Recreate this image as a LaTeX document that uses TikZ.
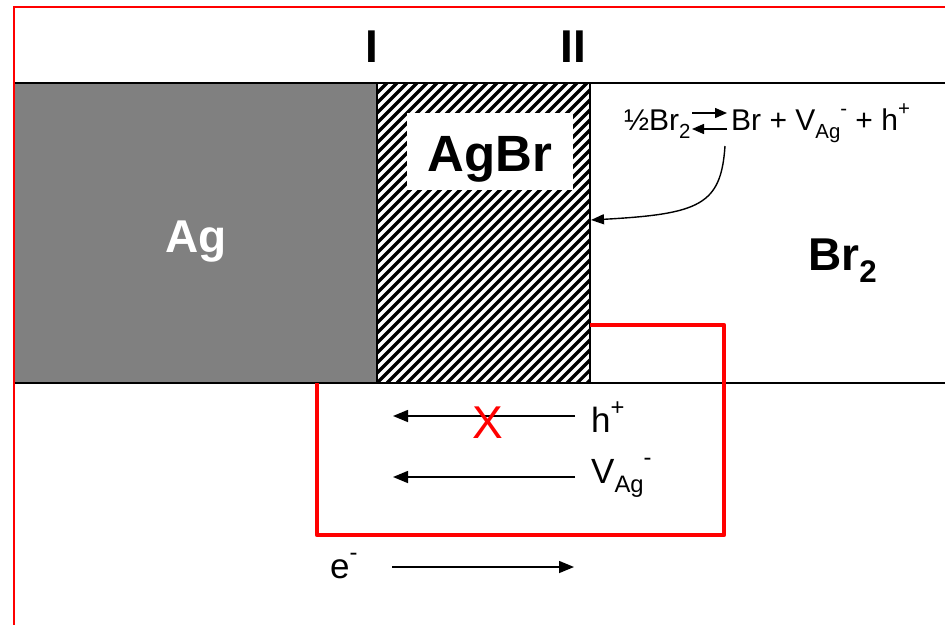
\documentclass[tikz,border=0pt]{standalone}
\usepackage{fontspec}
\usepackage{graphicx}
\setmainfont{Liberation Sans}
\usetikzlibrary{arrows.meta}
\definecolor{aggray}{HTML}{808080}
\newcommand\mysub[1]{\raisebox{-0.28em}{\scalebox{0.68}{#1}}}
\newcommand\mysup[1]{\raisebox{0.5em}{\scalebox{0.68}{#1}}}
\tikzset{
  big/.style={font=\fontsize{46}{50}\selectfont\bfseries, inner sep=0pt},
  lbl/.style={font=\fontsize{35}{38}\selectfont, inner sep=0pt},
  eq/.style={font=\fontsize{30}{34}\selectfont, inner sep=0pt},
  flow/.style={line width=1.5pt, -{Triangle[length=15pt,width=12pt]}},
  circuit/.style={red, line width=4.5pt, line join=round},
}
\begin{document}
\begin{tikzpicture}[x=1pt,y=-1pt]
\useasboundingbox (0,0) rectangle (945,624);
% outer red frame (only left and top edges visible)
\draw[red, line width=2pt] (14,640) -- (14,7) -- (960,7);
% Ag region
\fill[aggray] (15,83) rectangle (377,383);
% AgBr hatch
\begin{scope}
  \clip (377,83) rectangle (590,383);
  \foreach \x in {67,77,...,600} \draw[line width=3.2pt] (\x,383) -- (\x+300,83);
\end{scope}
% white label box
\node[fill=white, inner sep=0pt, minimum width=166pt, minimum height=77pt] (agbrbox) at (490,151.5) {};
\node[big, font=\fontsize{51}{54}\selectfont\bfseries, anchor=base] (agbr) at (490,171) {AgBr};
% band lines
\draw[line width=1.6pt] (15,83) -- (945,83);
\draw[line width=1.6pt] (15,383) -- (945,383);
\draw[line width=1.3pt] (377,83) -- (377,383);
\draw[line width=1.3pt] (590,83) -- (590,383);
% region labels
\node[big, white, anchor=base] (ag) at (196,252) {Ag};
\node[big, anchor=base west] (br2) at (808,270) {Br\mysub{2}};
\node[big] (i1) at (372,47) {I};
\node[big] (i2) at (573,47) {II};
% equation
\node[eq, anchor=base west] (eqa) at (624,130) {½Br\mysub{2}};
\node[eq, anchor=base west] (eqb) at (731,130) {Br + V\mysub{Ag}\mysup{-} + h\mysup{+}};
\coordinate (ar1) at (692,113);
\coordinate (ar2) at (727,113);
\coordinate (ar3) at (727,129);
\coordinate (ar4) at (692,129);
\draw[line width=1.4pt, -{Triangle[length=12pt,width=10pt]}] (ar1) -- (ar2);
\draw[line width=1.4pt, -{Triangle[length=12pt,width=10pt]}] (ar3) -- (ar4);
% curved arrow to interface II
\coordinate (cs) at (725,146);
\coordinate (ce) at (591,220);
\draw[line width=1.4pt, -{Triangle[length=13pt,width=10pt]}] (cs) .. controls (721,205) and (700,214) .. (ce);
% red external circuit
\draw[circuit] (590,325) -- (724,325) -- (724,535) -- (317,535) -- (317,383);
% flux arrows
\node[lbl, anchor=west] (hp) at (591,417) {h\mysup{+}};
\coordinate (h1) at (575,416);
\coordinate (h2) at (393,416);
\draw[flow] (h1) -- (h2);
\node[red, font=\fontsize{46}{50}\selectfont, inner sep=0pt] (x) at (488,423) {X};
\node[lbl, anchor=west] (vag) at (591,478) {V\mysub{Ag}\mysup{-}};
\coordinate (v1) at (575,477);
\coordinate (v2) at (393,477);
\draw[flow] (v1) -- (v2);
\node[lbl, anchor=west] (el) at (330,566) {e\mysup{-}};
\coordinate (e1) at (392,567);
\coordinate (e2) at (574,567);
\draw[flow] (e1) -- (e2);
\end{tikzpicture}
\end{document}
